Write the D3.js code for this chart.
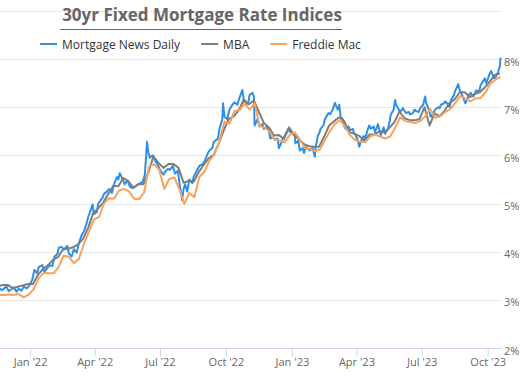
<!DOCTYPE html>
<html>
<head>
<meta charset="utf-8">
<script src="https://cdn.jsdelivr.net/npm/d3@7"></script>
<style>
  body { margin: 0; background: #fff; }
  svg { display: block; font-family: "Open Sans", "Noto Sans", sans-serif; }
</style>
</head>
<body>
<div id="chart"></div>
<script>
// Mortgage News Daily (daily index, sampled)
const mndDates = [
  "2021-11-19","2021-11-23","2021-11-29","2021-12-02","2021-12-06","2021-12-09","2021-12-13","2021-12-16","2021-12-20","2021-12-23","2021-12-28","2021-12-31",
  "2022-01-04","2022-01-07","2022-01-11","2022-01-13","2022-01-18","2022-01-21","2022-01-25","2022-01-28","2022-02-01","2022-02-04","2022-02-08","2022-02-10",
  "2022-02-14","2022-02-17","2022-02-22","2022-02-24","2022-02-28","2022-03-03","2022-03-07","2022-03-10","2022-03-14","2022-03-17","2022-03-21","2022-03-23",
  "2022-03-25","2022-03-29","2022-03-31","2022-04-04","2022-04-06","2022-04-08","2022-04-12","2022-04-14","2022-04-18","2022-04-21","2022-04-25","2022-04-28",
  "2022-05-02","2022-05-04","2022-05-06","2022-05-10","2022-05-13","2022-05-17","2022-05-20","2022-05-24","2022-05-27","2022-06-01","2022-06-03","2022-06-07",
  "2022-06-10","2022-06-13","2022-06-15","2022-06-17","2022-06-21","2022-06-24","2022-06-28","2022-07-01","2022-07-06","2022-07-08","2022-07-12","2022-07-15",
  "2022-07-19","2022-07-22","2022-07-26","2022-07-28","2022-08-01","2022-08-03","2022-08-05","2022-08-08","2022-08-11","2022-08-15","2022-08-17","2022-08-22",
  "2022-08-25","2022-08-30","2022-09-02","2022-09-06","2022-09-08","2022-09-12","2022-09-14","2022-09-16","2022-09-20","2022-09-22","2022-09-26","2022-09-27",
  "2022-09-29","2022-10-03","2022-10-06","2022-10-10","2022-10-13","2022-10-17","2022-10-20","2022-10-24","2022-10-26","2022-10-28","2022-11-01","2022-11-03",
  "2022-11-07","2022-11-09","2022-11-10","2022-11-14","2022-11-17","2022-11-21","2022-11-23","2022-11-28","2022-11-30","2022-12-02","2022-12-06","2022-12-08",
  "2022-12-12","2022-12-14","2022-12-16","2022-12-20","2022-12-22","2022-12-27","2022-12-30","2023-01-03","2023-01-05","2023-01-06","2023-01-10","2023-01-12",
  "2023-01-16","2023-01-18","2023-01-20","2023-01-24","2023-01-26","2023-01-30","2023-02-02","2023-02-03","2023-02-06","2023-02-08","2023-02-10","2023-02-14",
  "2023-02-16","2023-02-21","2023-02-23","2023-02-27","2023-03-02","2023-03-06","2023-03-08","2023-03-10","2023-03-13","2023-03-15","2023-03-17","2023-03-21",
  "2023-03-23","2023-03-27","2023-03-29","2023-03-31","2023-04-03","2023-04-05","2023-04-07","2023-04-11","2023-04-13","2023-04-17","2023-04-19","2023-04-21",
  "2023-04-25","2023-04-27","2023-05-01","2023-05-03","2023-05-05","2023-05-09","2023-05-11","2023-05-15","2023-05-17","2023-05-19","2023-05-23","2023-05-25",
  "2023-05-26","2023-05-30","2023-06-01","2023-06-05","2023-06-07","2023-06-09","2023-06-13","2023-06-15","2023-06-19","2023-06-21","2023-06-23","2023-06-27",
  "2023-06-29","2023-07-03","2023-07-06","2023-07-07","2023-07-11","2023-07-13","2023-07-14","2023-07-18","2023-07-20","2023-07-24","2023-07-26","2023-07-28",
  "2023-08-01","2023-08-03","2023-08-07","2023-08-09","2023-08-11","2023-08-15","2023-08-17","2023-08-21","2023-08-23","2023-08-25","2023-08-29","2023-08-31",
  "2023-09-05","2023-09-07","2023-09-11","2023-09-13","2023-09-15","2023-09-19","2023-09-21","2023-09-25","2023-09-27","2023-09-29","2023-10-02","2023-10-04",
  "2023-10-06","2023-10-10","2023-10-12","2023-10-16","2023-10-18","2023-10-19"
];
const mndRates = [
  3.24,3.20,3.28,3.18,3.22,3.26,3.17,3.23,3.19,3.27,3.24,3.30,
  3.42,3.62,3.55,3.68,3.72,3.58,3.66,3.72,3.70,3.90,3.95,4.08,
  4.10,4.04,4.12,3.96,3.90,4.05,3.98,4.18,4.35,4.42,4.60,4.72,
  4.80,4.98,4.78,4.82,5.00,5.04,5.12,5.20,5.25,5.30,5.22,5.40,
  5.55,5.50,5.63,5.50,5.40,5.48,5.35,5.32,5.35,5.40,5.42,5.45,
  5.60,6.28,6.05,5.95,6.00,5.90,5.80,5.70,5.60,5.65,5.72,5.70,
  5.78,5.62,5.68,5.45,5.07,5.30,5.40,5.25,5.50,5.42,5.55,5.70,
  5.78,5.82,5.90,6.05,6.10,6.15,6.28,6.30,6.35,6.55,6.75,7.08,
  6.80,6.75,6.95,7.05,7.10,7.05,7.20,7.36,7.14,7.06,7.08,7.25,
  7.30,7.22,6.62,6.75,6.60,6.65,6.55,6.60,6.50,6.35,6.38,6.32,
  6.35,6.15,6.22,6.35,6.40,6.55,6.48,6.45,6.40,6.25,6.30,6.10,
  6.15,6.05,6.17,6.13,6.10,6.15,5.97,6.15,6.40,6.45,6.55,6.62,
  6.75,6.88,6.85,6.95,7.09,6.95,7.05,6.80,6.75,6.60,6.55,6.60,
  6.52,6.55,6.45,6.42,6.30,6.18,6.28,6.40,6.35,6.55,6.62,6.55,
  6.60,6.48,6.65,6.52,6.42,6.58,6.45,6.55,6.68,6.85,6.95,7.15,
  7.05,6.95,6.90,6.98,6.92,6.88,6.90,6.85,6.88,6.95,6.92,6.90,
  6.98,7.05,7.22,7.10,6.95,6.82,6.80,6.90,6.95,7.00,6.98,7.05,
  7.08,7.12,7.05,7.00,7.15,7.25,7.35,7.48,7.35,7.30,7.15,7.08,
  7.25,7.30,7.22,7.28,7.35,7.32,7.45,7.55,7.60,7.50,7.62,7.70,
  7.75,7.60,7.62,7.75,7.85,8.03
];

// MBA weekly (Wednesdays) starting 2021-11-17
const mbaStart = "2021-11-17";
const mbaRates = [
  3.28,3.31,3.31,3.24,3.27,3.30,3.33,
  3.33,3.52,3.64,3.72,3.83,3.89,4.05,4.06,4.09,4.15,4.27,4.50,4.80,4.90,5.02,5.20,5.37,5.36,5.53,5.46,5.33,5.40,5.40,5.65,5.98,5.84,
  5.74,5.82,5.82,5.74,5.43,5.47,5.45,5.65,5.80,5.94,6.01,6.25,6.52,6.75,6.81,6.94,7.16,7.06,7.14,6.90,6.67,6.58,6.41,6.42,6.34,6.58,
  6.42,6.33,6.23,6.19,6.18,6.18,6.39,6.62,6.71,6.79,6.71,6.48,6.45,6.40,6.30,6.43,6.43,6.50,6.48,6.57,6.69,6.91,6.77,6.73,6.73,6.75,
  7.00,6.62,6.87,6.81,6.93,7.09,7.16,7.31,7.31,7.21,7.27,7.31,7.41,7.53,7.67,7.70
];

// Freddie Mac weekly (Thursdays) starting 2021-11-18
const fmStart = "2021-11-18";
const fmRates = [
  3.10,3.10,3.11,3.10,3.12,3.05,3.11,
  3.22,3.45,3.56,3.55,3.55,3.69,3.92,3.89,3.76,3.85,4.16,4.42,4.67,4.72,5.00,5.11,5.10,5.27,5.30,5.25,5.10,5.09,5.23,5.78,5.81,5.70,
  5.30,5.51,5.54,5.30,4.99,5.22,5.13,5.55,5.66,5.89,6.02,6.29,6.70,6.66,6.92,6.94,7.08,6.95,7.08,6.61,6.58,6.49,6.33,6.31,6.27,6.42,
  6.48,6.33,6.15,6.13,6.09,6.12,6.32,6.50,6.65,6.73,6.60,6.42,6.32,6.28,6.27,6.39,6.43,6.39,6.35,6.39,6.57,6.79,6.71,6.69,6.67,6.71,
  6.81,6.96,6.78,6.81,6.90,6.96,7.09,7.23,7.18,7.12,7.18,7.19,7.31,7.49,7.57,7.63
];

const seriesNames = ["Mortgage News Daily", "MBA", "Freddie Mac"];
const seriesColors = ["#2e8fe6", "#7d7d7d", "#f7a35c"];
const xTickDates = ["2022-01-01","2022-04-01","2022-07-01","2022-10-01","2023-01-01","2023-04-01","2023-07-01","2023-10-01"];
const xTickLabels = ["Jan '22","Apr '22","Jul '22","Oct '22","Jan '23","Apr '23","Jul '23","Oct '23"];
const yTicks = [2, 3, 4, 5, 6, 7, 8];

const parse = d3.timeParse("%Y-%m-%d");
const weekly = (start, vals) => vals.map((v, i) => ({date: d3.timeDay.offset(parse(start), i * 7), value: v}));

const series = [
  mndDates.map((d, i) => ({date: parse(d), value: mndRates[i]})),
  weekly(mbaStart, mbaRates),
  weekly(fmStart, fmRates)
];

const width = 525, height = 388;
const plot = {left: 0, right: 502, top: 59, bottom: 348};

const svg = d3.select("#chart").append("svg").attr("width", width).attr("height", height);

const x = d3.scaleTime()
  .domain([parse("2021-11-20"), parse("2023-10-21")])
  .range([plot.left, plot.right]);
const y = d3.scaleLinear().domain([2, 8]).range([plot.bottom, plot.top]);

// top rule
svg.append("line").attr("x1", 0).attr("x2", plot.right).attr("y1", 11.5).attr("y2", 11.5)
  .attr("stroke", "#e6e6e6").attr("stroke-width", 1);

// title
svg.append("text").attr("x", 202).attr("y", 21).attr("text-anchor", "middle")
  .attr("font-size", 17).attr("font-weight", "bold").attr("fill", "#666")
  .text("30yr Fixed Mortgage Rate Indices");
svg.append("line").attr("x1", 60).attr("x2", 342).attr("y1", 29.5).attr("y2", 29.5)
  .attr("stroke", "#666").attr("stroke-width", 1.2);

// grid
svg.append("g").selectAll("line").data(yTicks.filter(t => t > 2)).join("line")
  .attr("x1", plot.left).attr("x2", plot.right)
  .attr("y1", d => Math.round(y(d)) + 0.5).attr("y2", d => Math.round(y(d)) + 0.5)
  .attr("stroke", "#e6e6e6");

// y labels
svg.append("g").selectAll("text").data(yTicks).join("text")
  .attr("x", 504).attr("y", d => y(d) + 6.5)
  .attr("font-size", 11).attr("fill", "#666")
  .text(d => d + "%");

// x axis
const xAxis = svg.append("g").attr("transform", `translate(0,${plot.bottom + 0.5})`)
  .call(d3.axisBottom(x).tickValues(xTickDates.map(parse)).tickSize(8)
    .tickFormat((d, i) => xTickLabels[i]));
xAxis.select(".domain").attr("stroke", "#ccd6eb").attr("d", `M${plot.left},0H${plot.right}`);
xAxis.selectAll(".tick line").attr("stroke", "#ccd6eb");
xAxis.selectAll(".tick text").attr("font-size", 11).attr("fill", "#666")
  .attr("font-family", "\"Open Sans\", sans-serif").attr("y", 10);

// lines
svg.append("clipPath").attr("id", "clip").append("rect")
  .attr("x", plot.left).attr("y", 0).attr("width", plot.right - plot.left + 2).attr("height", plot.bottom);

const line = d3.line().x(d => x(d.date)).y(d => y(d.value));
svg.append("g").attr("clip-path", "url(#clip)").selectAll("path").data(series).join("path")
  .attr("fill", "none")
  .attr("stroke", (d, i) => seriesColors[i])
  .attr("stroke-width", 2)
  .attr("stroke-linejoin", "round")
  .attr("d", line);

// legend
const legend = svg.append("g").attr("transform", "translate(40,44)");
let lx = 0;
seriesNames.forEach((name, i) => {
  const item = legend.append("g").attr("transform", `translate(${lx},0)`);
  item.append("line").attr("x1", 0).attr("x2", 17).attr("y1", 0).attr("y2", 0)
    .attr("stroke", seriesColors[i]).attr("stroke-width", 2);
  const t = item.append("text").attr("x", 22).attr("y", 4.5)
    .attr("font-size", 12).attr("fill", "#333").text(name);
  lx += 22 + t.node().getComputedTextLength() + 21;
});
</script>
</body>
</html>
